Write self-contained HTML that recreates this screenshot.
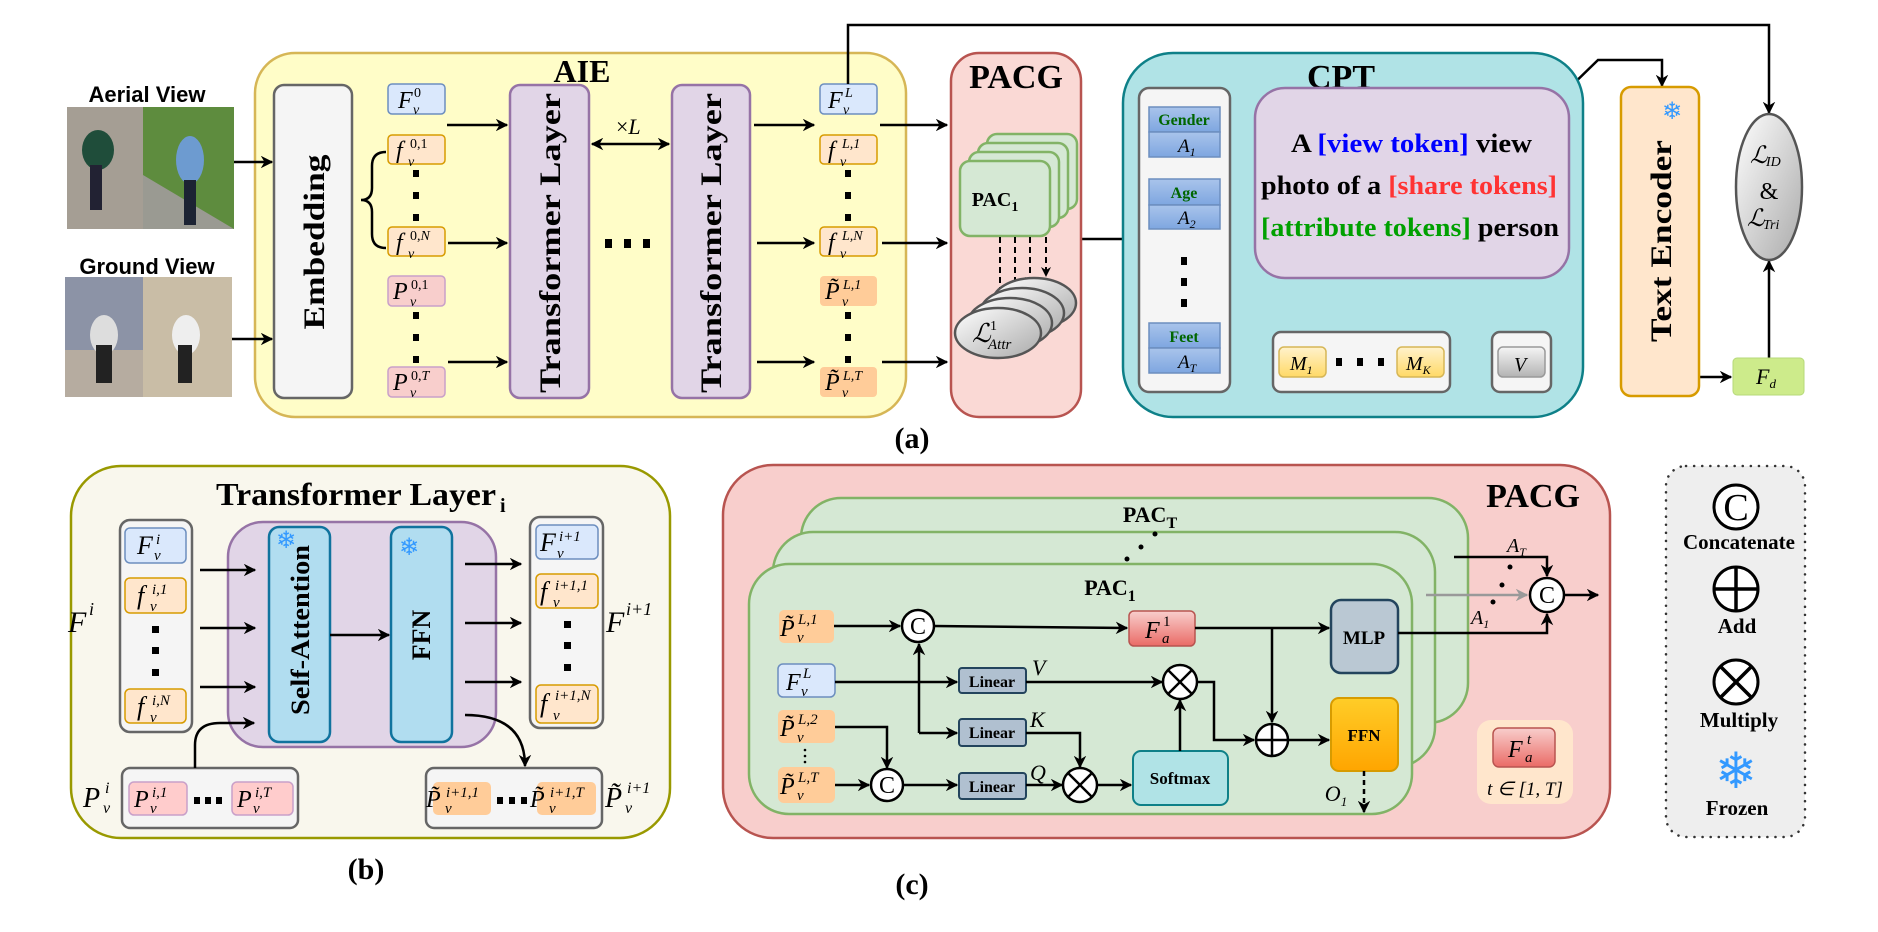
<!DOCTYPE html>
<html><head><meta charset="utf-8"><style>
html,body{margin:0;padding:0;background:#fff;}
svg{display:block;}
.mi{font-family:"Liberation Serif",serif;font-style:italic;}
.rm{font-family:"Liberation Serif",serif;}
.bd{font-family:"Liberation Serif",serif;font-weight:bold;}
.sn{font-family:"Liberation Sans",sans-serif;font-weight:bold;}
.sf{font-family:"DejaVu Sans",sans-serif;fill:#3399ff;}
</style></head><body>
<svg width="1878" height="932" viewBox="0 0 1878 932" xmlns="http://www.w3.org/2000/svg">
<defs>
<marker id="ah" viewBox="0 0 10 10" refX="9" refY="5" markerWidth="5" markerHeight="5" orient="auto-start-reverse"><path d="M0,0 L10,5 L0,10 L3,5 z" fill="#000"/></marker>
<marker id="ahg" viewBox="0 0 10 10" refX="9" refY="5" markerWidth="5" markerHeight="5" orient="auto"><path d="M0,0 L10,5 L0,10 L3,5 z" fill="#999"/></marker>
<linearGradient id="gGray" x1="0" y1="0" x2="1" y2="1"><stop offset="0" stop-color="#fff"/><stop offset="1" stop-color="#aaa"/></linearGradient>
<linearGradient id="gBlue" x1="0" y1="0" x2="0" y2="1"><stop offset="0" stop-color="#a9c4eb"/><stop offset="1" stop-color="#7ea6e0"/></linearGradient>
<linearGradient id="gYel" x1="0" y1="0" x2="0" y2="1"><stop offset="0" stop-color="#fff2cc"/><stop offset="1" stop-color="#ffd966"/></linearGradient>
<linearGradient id="gRed" x1="0" y1="0" x2="0" y2="1"><stop offset="0" stop-color="#f8cecc"/><stop offset="1" stop-color="#ea6b66"/></linearGradient>
<linearGradient id="gOr" x1="0" y1="0" x2="0" y2="1"><stop offset="0" stop-color="#ffcd28"/><stop offset="1" stop-color="#ffa500"/></linearGradient>
<linearGradient id="gV" x1="0" y1="0" x2="0" y2="1"><stop offset="0" stop-color="#f5f5f5"/><stop offset="1" stop-color="#b3b3b3"/></linearGradient>
</defs>

<!-- ============ (a) ============ -->
<text class="sn" x="147" y="102" font-size="22" text-anchor="middle">Aerial View</text>
<rect x="67" y="107" width="76" height="122" fill="#a59e94"/>
<rect x="143" y="107" width="91" height="122" fill="#5e8c3e"/>
<path d="M143,175 L234,229 L143,229 z" fill="#9a9a92"/>
<ellipse cx="98" cy="150" rx="16" ry="20" fill="#1f4d3a"/><rect x="90" y="165" width="12" height="45" fill="#223"/>
<ellipse cx="190" cy="160" rx="14" ry="24" fill="#6d9bd0"/><rect x="184" y="180" width="12" height="45" fill="#1c2333"/>
<text class="sn" x="147" y="274" font-size="22" text-anchor="middle">Ground View</text>
<rect x="65" y="277" width="78" height="120" fill="#8c93a6"/>
<rect x="143" y="277" width="89" height="120" fill="#c9bda6"/>
<rect x="65" y="350" width="78" height="47" fill="#b6aca0"/>
<ellipse cx="104" cy="335" rx="14" ry="20" fill="#ddd"/><rect x="96" y="345" width="16" height="38" fill="#222"/>
<ellipse cx="186" cy="335" rx="14" ry="20" fill="#eee"/><rect x="178" y="345" width="14" height="38" fill="#222"/>

<rect x="255" y="53" width="651" height="364" rx="40" fill="#fffdc8" stroke="#d6b656" stroke-width="2.5"/>
<text class="bd" x="582" y="82" font-size="32" text-anchor="middle">AIE</text>
<rect x="274" y="85" width="78" height="313" rx="10" fill="#f5f5f5" stroke="#666" stroke-width="2.5"/>
<text class="bd" font-size="30" text-anchor="middle" transform="translate(324,242) rotate(-90)" textLength="175" lengthAdjust="spacingAndGlyphs">Embedding</text>
<path d="M386,152 Q372,152 372,166 L372,188 Q372,200 361,200 Q372,200 372,212 L372,234 Q372,248 386,248" fill="none" stroke="#000" stroke-width="2.5"/>

<!-- left token boxes -->
<rect x="388" y="84" width="57" height="30" rx="4" fill="#dae8fc" stroke="#6c8ebf" stroke-width="1.5"/>
<rect x="388" y="135" width="57" height="29" rx="4" fill="#ffe6cc" stroke="#d79b00" stroke-width="1.5"/>
<rect x="388" y="227" width="57" height="29" rx="4" fill="#ffe6cc" stroke="#d79b00" stroke-width="1.5"/>
<rect x="388" y="276" width="57" height="30" rx="4" fill="#f8cecc" stroke="#c9a0c9" stroke-width="1.5"/>
<rect x="388" y="367" width="57" height="30" rx="4" fill="#f8cecc" stroke="#c9a0c9" stroke-width="1.5"/>
<g fill="#000"><rect x="413" y="170" width="6" height="7"/><rect x="413" y="192" width="6" height="7"/><rect x="413" y="214" width="6" height="7"/>
<rect x="413" y="312" width="6" height="7"/><rect x="413" y="334" width="6" height="7"/><rect x="413" y="356" width="6" height="7"/></g>
<g>
<text class="mi" x="398" y="108" font-size="24">F</text><text class="rm" x="414" y="97" font-size="14">0</text><text class="mi" x="413" y="114" font-size="14">v</text>
<text class="mi" x="396" y="158" font-size="24">f</text><text class="rm" x="410" y="148" font-size="14">0,1</text><text class="mi" x="408" y="166" font-size="14">v</text>
<text class="mi" x="396" y="250" font-size="24">f</text><text class="rm" x="410" y="240" font-size="14">0,<tspan class="mi">N</tspan></text><text class="mi" x="408" y="258" font-size="14">v</text>
<text class="mi" x="393" y="299" font-size="24">P</text><text class="rm" x="411" y="289" font-size="14">0,1</text><text class="mi" x="410" y="306" font-size="14">v</text>
<text class="mi" x="393" y="390" font-size="24">P</text><text class="rm" x="411" y="380" font-size="14">0,<tspan class="mi">T</tspan></text><text class="mi" x="410" y="397" font-size="14">v</text>
</g>

<rect x="510" y="85" width="79" height="313" rx="10" fill="#e1d5e7" stroke="#9673a6" stroke-width="2.5"/>
<text class="bd" font-size="30" text-anchor="middle" transform="translate(560,243) rotate(-90)" textLength="300" lengthAdjust="spacingAndGlyphs">Transformer  Layer</text>
<rect x="672" y="85" width="78" height="313" rx="10" fill="#e1d5e7" stroke="#9673a6" stroke-width="2.5"/>
<text class="bd" font-size="30" text-anchor="middle" transform="translate(721,243) rotate(-90)" textLength="300" lengthAdjust="spacingAndGlyphs">Transformer  Layer</text>
<text class="rm" x="616" y="134" font-size="22">×<tspan class="mi">L</tspan></text>
<line x1="592" y1="144" x2="669" y2="144" stroke="#000" stroke-width="2.5" marker-start="url(#ah)" marker-end="url(#ah)"/>
<g fill="#000"><rect x="605" y="239" width="7" height="9"/><rect x="624" y="239" width="7" height="9"/><rect x="643" y="239" width="7" height="9"/></g>

<!-- right token boxes -->
<rect x="820" y="84" width="57" height="30" rx="4" fill="#dae8fc" stroke="#6c8ebf" stroke-width="1.5"/>
<rect x="820" y="135" width="57" height="29" rx="4" fill="#ffe6cc" stroke="#d79b00" stroke-width="1.5"/>
<rect x="820" y="227" width="57" height="29" rx="4" fill="#ffe6cc" stroke="#d79b00" stroke-width="1.5"/>
<rect x="820" y="276" width="57" height="30" rx="4" fill="#ffcc99"/>
<rect x="820" y="367" width="57" height="30" rx="4" fill="#ffcc99"/>
<g fill="#000"><rect x="845" y="170" width="6" height="7"/><rect x="845" y="192" width="6" height="7"/><rect x="845" y="214" width="6" height="7"/>
<rect x="845" y="312" width="6" height="7"/><rect x="845" y="334" width="6" height="7"/><rect x="845" y="356" width="6" height="7"/></g>
<g>
<text class="mi" x="828" y="108" font-size="24">F</text><text class="mi" x="845" y="97" font-size="14">L</text><text class="mi" x="843" y="114" font-size="14">v</text>
<text class="mi" x="828" y="158" font-size="24">f</text><text class="mi" x="842" y="148" font-size="14">L<tspan class="rm">,1</tspan></text><text class="mi" x="840" y="166" font-size="14">v</text>
<text class="mi" x="828" y="250" font-size="24">f</text><text class="mi" x="842" y="240" font-size="14">L,N</text><text class="mi" x="840" y="258" font-size="14">v</text>
<text class="mi" x="825" y="299" font-size="24">P̃</text><text class="mi" x="843" y="289" font-size="14">L<tspan class="rm">,1</tspan></text><text class="mi" x="842" y="306" font-size="14">v</text>
<text class="mi" x="825" y="390" font-size="24">P̃</text><text class="mi" x="843" y="380" font-size="14">L,T</text><text class="mi" x="842" y="397" font-size="14">v</text>
</g>

<g stroke="#000" stroke-width="2.5" fill="none" marker-end="url(#ah)">
<line x1="234" y1="162" x2="272" y2="162"/>
<line x1="232" y1="339" x2="272" y2="339"/>
<line x1="447" y1="125" x2="507" y2="125"/>
<line x1="448" y1="243" x2="507" y2="243"/>
<line x1="448" y1="362" x2="507" y2="362"/>
<line x1="754" y1="125" x2="814" y2="125"/>
<line x1="757" y1="243" x2="814" y2="243"/>
<line x1="757" y1="362" x2="814" y2="362"/>
<line x1="880" y1="125" x2="947" y2="125"/>
<line x1="882" y1="243" x2="947" y2="243"/>
<line x1="882" y1="362" x2="947" y2="362"/>
<polyline points="848,84 848,25 1769,25 1769,113"/>
<line x1="1081" y1="239" x2="1137" y2="239"/>
<line x1="1230" y1="183" x2="1253" y2="183"/>
<polyline points="1562,95 1598,60 1662,60 1662,86"/>
<line x1="1364" y1="332" x2="1364" y2="281"/>
<line x1="1521" y1="332" x2="1521" y2="281"/>
<line x1="1700" y1="377" x2="1731" y2="377"/>
<line x1="1769" y1="358" x2="1769" y2="261"/>
</g>

<!-- PACG top -->
<rect x="951" y="53" width="130" height="364" rx="28" fill="#fad9d5" stroke="#b85450" stroke-width="2.5"/>
<text class="bd" x="1016" y="88" font-size="34" text-anchor="middle">PACG</text>
<g fill="#d5e8d4" stroke="#82b366" stroke-width="2.5">
<rect x="987" y="134" width="90" height="75" rx="10"/>
<rect x="978" y="143" width="90" height="75" rx="10"/>
<rect x="969" y="152" width="90" height="75" rx="10"/>
<rect x="960" y="161" width="90" height="75" rx="10"/>
</g>
<text class="bd" x="995" y="206" font-size="20" text-anchor="middle">PAC<tspan font-size="14" dy="5">1</tspan></text>
<g stroke="#000" stroke-width="2" stroke-dasharray="6,4" fill="none" marker-end="url(#ah)">
<line x1="1046" y1="237" x2="1046" y2="276"/>
<line x1="1030" y1="237" x2="1030" y2="286"/>
<line x1="1015" y1="237" x2="1015" y2="296"/>
<line x1="1000" y1="237" x2="1000" y2="306"/>
</g>
<g fill="url(#gGray)" stroke="#555" stroke-width="2.5">
<ellipse cx="1034" cy="303" rx="42" ry="25"/>
<ellipse cx="1022" cy="313" rx="42" ry="25"/>
<ellipse cx="1010" cy="323" rx="42" ry="25"/>
<ellipse cx="998" cy="333" rx="43" ry="25"/>
</g>
<text class="mi" x="972" y="342" font-size="26">ℒ</text><text class="rm" x="990" y="330" font-size="14">1</text><text class="mi" x="988" y="349" font-size="15">Attr</text>

<!-- CPT -->
<rect x="1123" y="53" width="460" height="364" rx="50" fill="#b0e3e6" stroke="#0e8088" stroke-width="2.5"/>
<text class="bd" x="1341" y="88" font-size="34" text-anchor="middle">CPT</text>
<rect x="1139" y="88" width="91" height="304" rx="10" fill="#f5f5f5" stroke="#666" stroke-width="2.5"/>
<g stroke="#6c8ebf" stroke-width="1.5" fill="url(#gBlue)">
<rect x="1149" y="107" width="71" height="25"/><rect x="1149" y="132" width="71" height="25"/>
<rect x="1149" y="179" width="71" height="26"/><rect x="1149" y="205" width="71" height="24"/>
<rect x="1149" y="323" width="71" height="25"/><rect x="1149" y="348" width="71" height="25"/>
</g>
<g class="bd" font-size="16" fill="#006600" text-anchor="middle">
<text x="1184" y="125">Gender</text><text x="1184" y="198">Age</text><text x="1184" y="342">Feet</text>
</g>
<text class="mi" x="1178" y="152" font-size="19">A<tspan class="rm" font-size="12" dy="4">1</tspan></text>
<text class="mi" x="1178" y="224" font-size="19">A<tspan class="rm" font-size="12" dy="4">2</tspan></text>
<text class="mi" x="1178" y="368" font-size="19">A<tspan font-size="12" dy="4">T</tspan></text>
<g fill="#000"><rect x="1181" y="257" width="6" height="8"/><rect x="1181" y="278" width="6" height="8"/><rect x="1181" y="299" width="6" height="8"/></g>

<rect x="1255" y="88" width="314" height="190" rx="30" fill="#e1d5e7" stroke="#9673a6" stroke-width="2.5"/>
<text class="bd" x="1291" y="152" font-size="26" textLength="241" lengthAdjust="spacingAndGlyphs">A  <tspan fill="#0000ff">[view token]</tspan> view</text>
<text class="bd" x="1261" y="194" font-size="26" textLength="296" lengthAdjust="spacingAndGlyphs">photo of a <tspan fill="#ff3333">[share tokens]</tspan></text>
<text class="bd" x="1261" y="236" font-size="26" textLength="298" lengthAdjust="spacingAndGlyphs"><tspan fill="#00a000">[attribute tokens]</tspan> person</text>

<rect x="1273" y="332" width="177" height="60" rx="8" fill="#f5f5f5" stroke="#666" stroke-width="2.5"/>
<rect x="1279" y="347" width="47" height="30" rx="5" fill="url(#gYel)" stroke="#d6b656" stroke-width="1.5"/>
<rect x="1397" y="347" width="47" height="30" rx="5" fill="url(#gYel)" stroke="#d6b656" stroke-width="1.5"/>
<text class="mi" x="1290" y="370" font-size="20">M<tspan class="rm" font-size="12" dy="4">1</tspan></text>
<text class="mi" x="1406" y="370" font-size="20">M<tspan font-size="12" dy="4">K</tspan></text>
<g fill="#000"><rect x="1336" y="358" width="6" height="8"/><rect x="1357" y="358" width="6" height="8"/><rect x="1378" y="358" width="6" height="8"/></g>
<rect x="1492" y="332" width="59" height="60" rx="8" fill="#f5f5f5" stroke="#666" stroke-width="2.5"/>
<rect x="1498" y="347" width="47" height="30" rx="5" fill="url(#gV)" stroke="#999" stroke-width="1.5"/>
<text class="mi" x="1514" y="371" font-size="20">V</text>

<!-- Text encoder -->
<rect x="1621" y="87" width="78" height="309" rx="10" fill="#ffe6cc" stroke="#d79b00" stroke-width="2.5"/>
<text class="bd" font-size="30" text-anchor="middle" transform="translate(1671,241) rotate(-90)" textLength="202" lengthAdjust="spacingAndGlyphs">Text Encoder</text>
<text class="sf" x="1672" y="119" font-size="24" text-anchor="middle">❄</text>

<ellipse cx="1769" cy="187" rx="33" ry="73" fill="url(#gGray)" stroke="#555" stroke-width="2.5"/>
<text class="mi" x="1750" y="163" font-size="24">ℒ</text><text class="mi" x="1766" y="166" font-size="14">ID</text>
<text class="rm" x="1769" y="199" font-size="24" text-anchor="middle">&amp;</text>
<text class="mi" x="1747" y="226" font-size="24">ℒ</text><text class="mi" x="1763" y="229" font-size="14">Tri</text>
<rect x="1733" y="358" width="71" height="37" rx="4" fill="#cdeb8b" stroke="#b6d97a" stroke-width="1"/>
<text class="mi" x="1756" y="384" font-size="22">F<tspan font-size="13" dy="4">d</tspan></text>

<text class="bd" x="912" y="448" font-size="30" text-anchor="middle">(a)</text>

<!-- ============ (b) ============ -->
<rect x="71" y="466" width="599" height="372" rx="50" fill="#f9f7ed" stroke="#999900" stroke-width="2.5"/>
<text class="bd" x="216" y="505" font-size="32" textLength="280" lengthAdjust="spacingAndGlyphs">Transformer Layer</text>
<text class="bd" x="500" y="512" font-size="20">i</text>

<rect x="120" y="520" width="72" height="212" rx="10" fill="#f5f5f5" stroke="#666" stroke-width="2.5"/>
<rect x="125" y="528" width="61" height="35" rx="5" fill="#dae8fc" stroke="#6c8ebf" stroke-width="1.5"/>
<rect x="125" y="578" width="61" height="35" rx="5" fill="#ffe6cc" stroke="#d79b00" stroke-width="1.5"/>
<rect x="125" y="689" width="61" height="34" rx="5" fill="#ffe6cc" stroke="#d79b00" stroke-width="1.5"/>
<g fill="#000"><rect x="152" y="626" width="7" height="7"/><rect x="152" y="647" width="7" height="7"/><rect x="152" y="669" width="7" height="7"/></g>
<text class="mi" x="137" y="554" font-size="26">F</text><text class="mi" x="156" y="544" font-size="15">i</text><text class="mi" x="154" y="560" font-size="15">v</text>
<text class="mi" x="137" y="604" font-size="26">f</text><text class="mi" x="152" y="594" font-size="15">i<tspan class="rm">,1</tspan></text><text class="mi" x="150" y="611" font-size="15">v</text>
<text class="mi" x="137" y="715" font-size="26">f</text><text class="mi" x="152" y="705" font-size="15">i,N</text><text class="mi" x="150" y="722" font-size="15">v</text>
<text class="mi" x="68" y="632" font-size="30">F</text><text class="mi" x="89" y="615" font-size="18">i</text>

<rect x="228" y="522" width="268" height="225" rx="35" fill="#e1d5e7" stroke="#9673a6" stroke-width="2.5"/>
<rect x="269" y="527" width="61" height="215" rx="10" fill="#b1ddf0" stroke="#10739e" stroke-width="2.5"/>
<rect x="391" y="527" width="61" height="215" rx="10" fill="#b1ddf0" stroke="#10739e" stroke-width="2.5"/>
<text class="bd" font-size="26" text-anchor="middle" transform="translate(309,630) rotate(-90)" textLength="170" lengthAdjust="spacingAndGlyphs">Self-Attention</text>
<text class="bd" font-size="26" text-anchor="middle" transform="translate(430,635) rotate(-90)">FFN</text>
<text class="sf" x="286" y="548" font-size="24" text-anchor="middle">❄</text>
<text class="sf" x="409" y="555" font-size="24" text-anchor="middle">❄</text>

<rect x="530" y="517" width="73" height="211" rx="10" fill="#f5f5f5" stroke="#666" stroke-width="2.5"/>
<rect x="536" y="525" width="62" height="34" rx="5" fill="#dae8fc" stroke="#6c8ebf" stroke-width="1.5"/>
<rect x="536" y="574" width="62" height="34" rx="5" fill="#ffe6cc" stroke="#d79b00" stroke-width="1.5"/>
<rect x="536" y="685" width="62" height="38" rx="5" fill="#ffe6cc" stroke="#d79b00" stroke-width="1.5"/>
<g fill="#000"><rect x="564" y="621" width="7" height="7"/><rect x="564" y="642" width="7" height="7"/><rect x="564" y="664" width="7" height="7"/></g>
<text class="mi" x="540" y="551" font-size="26">F</text><text class="mi" x="559" y="541" font-size="15">i<tspan class="rm">+1</tspan></text><text class="mi" x="557" y="558" font-size="15">v</text>
<text class="mi" x="540" y="600" font-size="26">f</text><text class="mi" x="555" y="590" font-size="15">i<tspan class="rm">+1,1</tspan></text><text class="mi" x="553" y="607" font-size="15">v</text>
<text class="mi" x="540" y="712" font-size="26">f</text><text class="mi" x="555" y="700" font-size="15">i<tspan class="rm">+1,</tspan>N</text><text class="mi" x="553" y="720" font-size="15">v</text>
<text class="mi" x="606" y="632" font-size="30">F</text><text class="mi" x="626" y="615" font-size="18">i<tspan class="rm">+1</tspan></text>

<rect x="122" y="768" width="176" height="60" rx="8" fill="#f5f5f5" stroke="#666" stroke-width="2.5"/>
<rect x="129" y="782" width="58" height="33" rx="5" fill="#ffcccc" stroke="#c9a0c9" stroke-width="1.5"/>
<rect x="232" y="782" width="61" height="33" rx="5" fill="#ffcccc" stroke="#c9a0c9" stroke-width="1.5"/>
<g fill="#000"><rect x="194" y="797" width="6" height="7"/><rect x="205" y="797" width="6" height="7"/><rect x="216" y="797" width="6" height="7"/></g>
<text class="mi" x="134" y="807" font-size="24">P</text><text class="mi" x="152" y="797" font-size="15">i<tspan class="rm">,1</tspan></text><text class="mi" x="150" y="813" font-size="15">v</text>
<text class="mi" x="237" y="807" font-size="24">P</text><text class="mi" x="255" y="797" font-size="15">i,T</text><text class="mi" x="253" y="813" font-size="15">v</text>
<text class="mi" x="83" y="807" font-size="28">P</text><text class="mi" x="105" y="793" font-size="16">i</text><text class="mi" x="103" y="813" font-size="16">v</text>

<rect x="426" y="768" width="176" height="60" rx="8" fill="#f5f5f5" stroke="#666" stroke-width="2.5"/>
<rect x="433" y="782" width="58" height="33" rx="5" fill="#ffcc99"/>
<rect x="537" y="782" width="59" height="33" rx="5" fill="#ffcc99"/>
<g fill="#000"><rect x="497" y="797" width="6" height="7"/><rect x="509" y="797" width="6" height="7"/><rect x="521" y="797" width="6" height="7"/></g>
<text class="mi" x="426" y="807" font-size="24">P̃</text><text class="mi" x="446" y="797" font-size="15">i<tspan class="rm">+1,1</tspan></text><text class="mi" x="445" y="813" font-size="15">v</text>
<text class="mi" x="530" y="807" font-size="24">P̃</text><text class="mi" x="550" y="797" font-size="15">i<tspan class="rm">+1,</tspan>T</text><text class="mi" x="549" y="813" font-size="15">v</text>
<text class="mi" x="605" y="807" font-size="28">P̃</text><text class="mi" x="627" y="793" font-size="16">i<tspan class="rm">+1</tspan></text><text class="mi" x="625" y="813" font-size="16">v</text>

<g stroke="#000" stroke-width="2.5" fill="none" marker-end="url(#ah)">
<line x1="200" y1="570" x2="255" y2="570"/>
<line x1="200" y1="628" x2="255" y2="628"/>
<line x1="200" y1="687" x2="255" y2="687"/>
<line x1="330" y1="635" x2="389" y2="635"/>
<line x1="465" y1="564" x2="521" y2="564"/>
<line x1="465" y1="623" x2="521" y2="623"/>
<line x1="465" y1="682" x2="521" y2="682"/>
<path d="M195,768 L195,745 Q195,723 220,723 L254,723"/>
<path d="M465,715 Q525,715 525,766"/>
</g>
<text class="bd" x="366" y="879" font-size="30" text-anchor="middle">(b)</text>

<!-- ============ (c) ============ -->
<rect x="723" y="465" width="887" height="373" rx="50" fill="#f8cecc" stroke="#b85450" stroke-width="2.5"/>
<text class="bd" x="1533" y="507" font-size="34" text-anchor="middle">PACG</text>
<g fill="#d5e8d4" stroke="#82b366" stroke-width="2.5">
<rect x="801" y="498" width="667" height="225" rx="40"/>
<rect x="773" y="532" width="662" height="235" rx="40"/>
<rect x="749" y="564" width="663" height="250" rx="40"/>
</g>
<text class="bd" x="1150" y="522" font-size="22" text-anchor="middle">PAC<tspan font-size="16" dy="6">T</tspan></text>
<text class="bd" x="1110" y="595" font-size="22" text-anchor="middle">PAC<tspan font-size="16" dy="6">1</tspan></text>
<g fill="#000"><circle cx="1155" cy="534" r="2.5"/><circle cx="1141" cy="547" r="2.5"/><circle cx="1127" cy="559" r="2.5"/>
<circle cx="1510" cy="567" r="2.5"/><circle cx="1502" cy="585" r="2.5"/><circle cx="1493" cy="602" r="2.5"/></g>

<rect x="779" y="610" width="55" height="33" rx="5" fill="#ffcc99"/>
<text class="mi" x="780" y="636" font-size="24">P̃</text><text class="mi" x="798" y="624" font-size="15">L<tspan class="rm">,1</tspan></text><text class="mi" x="797" y="642" font-size="15">v</text>
<rect x="778" y="664" width="57" height="33" rx="5" fill="#dae8fc" stroke="#6c8ebf" stroke-width="1.5"/>
<text class="mi" x="786" y="690" font-size="24">F</text><text class="mi" x="803" y="678" font-size="15">L</text><text class="mi" x="801" y="696" font-size="15">v</text>
<rect x="778" y="710" width="57" height="33" rx="5" fill="#ffcc99"/>
<text class="mi" x="780" y="736" font-size="24">P̃</text><text class="mi" x="798" y="724" font-size="15">L<tspan class="rm">,2</tspan></text><text class="mi" x="797" y="742" font-size="15">v</text>
<g fill="#000"><circle cx="805" cy="750" r="1.3"/><circle cx="805" cy="756" r="1.3"/><circle cx="805" cy="762" r="1.3"/></g>
<rect x="778" y="767" width="57" height="36" rx="6" fill="#ffcc99"/>
<text class="mi" x="780" y="794" font-size="24">P̃</text><text class="mi" x="798" y="782" font-size="15">L,T</text><text class="mi" x="797" y="800" font-size="15">v</text>

<rect x="1129" y="611" width="66" height="35" rx="5" fill="url(#gRed)" stroke="#b85450" stroke-width="1.5"/>
<text class="mi" x="1145" y="638" font-size="24">F</text><text class="rm" x="1163" y="626" font-size="15">1</text><text class="mi" x="1162" y="643" font-size="15">a</text>

<g fill="#b0c0d0" stroke="#23445d" stroke-width="2">
<rect x="959" y="668" width="67" height="25" rx="3"/>
<rect x="959" y="719" width="67" height="27" rx="3"/>
<rect x="959" y="773" width="67" height="26" rx="3"/>
</g>
<g class="bd" font-size="16" text-anchor="middle"><text x="992" y="687">Linear</text><text x="992" y="738">Linear</text><text x="992" y="792">Linear</text></g>
<text class="mi" x="1032" y="675" font-size="22">V</text>
<text class="mi" x="1030" y="727" font-size="22">K</text>
<text class="mi" x="1030" y="780" font-size="22">Q</text>

<rect x="1133" y="751" width="95" height="54" rx="8" fill="#b0e3e6" stroke="#0e8088" stroke-width="2"/>
<text class="bd" x="1180" y="784" font-size="17" text-anchor="middle">Softmax</text>
<rect x="1331" y="600" width="67" height="73" rx="10" fill="#bac8d3" stroke="#23445d" stroke-width="2.5"/>
<text class="bd" x="1364" y="644" font-size="19" text-anchor="middle">MLP</text>
<rect x="1331" y="698" width="67" height="73" rx="8" fill="url(#gOr)" stroke="#d79b00" stroke-width="2"/>
<text class="bd" x="1364" y="741" font-size="17" text-anchor="middle">FFN</text>

<g stroke="#000" stroke-width="2.5" fill="none" marker-end="url(#ah)">
<line x1="834" y1="626" x2="900" y2="626"/>
<line x1="934" y1="626" x2="1127" y2="628"/>
<line x1="1195" y1="628" x2="1329" y2="628"/>
<line x1="1272" y1="628" x2="1272" y2="722"/>
<line x1="835" y1="682" x2="957" y2="682"/>
<line x1="1026" y1="682" x2="1162" y2="682"/>
<line x1="919" y1="733" x2="919" y2="644"/>
<line x1="919" y1="733" x2="957" y2="733"/>
<polyline points="1026,733 1080,733 1080,767"/>
<polyline points="835,727 887,727 887,768"/>
<line x1="835" y1="785" x2="869" y2="785"/>
<line x1="903" y1="785" x2="957" y2="785"/>
<line x1="1026" y1="785" x2="1062" y2="785"/>
<line x1="1097" y1="785" x2="1131" y2="785"/>
<line x1="1180" y1="751" x2="1180" y2="700"/>
<polyline points="1197,682 1214,682 1214,740 1254,740"/>
<line x1="1288" y1="740" x2="1329" y2="740"/>
<polyline points="1398,633 1547,633 1547,614"/>
<polyline points="1454,557 1547,557 1547,576"/>
<line x1="1564" y1="595" x2="1598" y2="595"/>
<line x1="1364" y1="771" x2="1364" y2="812" stroke-dasharray="5,4"/>
</g>
<line x1="1426" y1="595" x2="1527" y2="595" stroke="#999" stroke-width="2.5" marker-end="url(#ahg)"/>
<text class="mi" x="1336" y="801" font-size="22" text-anchor="middle">O<tspan class="rm" font-size="13" dy="5">1</tspan></text>
<text class="mi" x="1507" y="552" font-size="20">A<tspan font-size="12" dy="4">T</tspan></text>
<text class="mi" x="1471" y="624" font-size="20">A<tspan class="rm" font-size="12" dy="4">1</tspan></text>

<!-- operator circles -->
<g fill="#fff" stroke="#000" stroke-width="2.5">
<circle cx="918" cy="626" r="16"/><circle cx="887" cy="785" r="16"/><circle cx="1547" cy="595" r="17"/>
<circle cx="1180" cy="682" r="17"/><circle cx="1080" cy="785" r="17"/><circle cx="1272" cy="740" r="16"/>
</g>
<g class="rm" font-size="24" text-anchor="middle"><text x="918" y="634">C</text><text x="887" y="793">C</text><text x="1547" y="603">C</text></g>
<g stroke="#000" stroke-width="2.5">
<line x1="1168" y1="670" x2="1192" y2="694"/><line x1="1192" y1="670" x2="1168" y2="694"/>
<line x1="1068" y1="773" x2="1092" y2="797"/><line x1="1092" y1="773" x2="1068" y2="797"/>
<line x1="1256" y1="740" x2="1288" y2="740"/><line x1="1272" y1="724" x2="1272" y2="756"/>
</g>

<rect x="1477" y="720" width="96" height="84" rx="14" fill="#ffe6cc"/>
<rect x="1493" y="728" width="62" height="39" rx="6" fill="url(#gRed)" stroke="#b85450" stroke-width="1.5"/>
<text class="mi" x="1508" y="757" font-size="24">F</text><text class="mi" x="1527" y="744" font-size="15">t</text><text class="mi" x="1525" y="762" font-size="15">a</text>
<text class="mi" x="1525" y="795" font-size="19" text-anchor="middle">t <tspan class="rm">∈ [1, </tspan>T<tspan class="rm">]</tspan></text>

<text class="bd" x="912" y="894" font-size="30" text-anchor="middle">(c)</text>

<!-- legend -->
<rect x="1666" y="466" width="139" height="371" rx="20" fill="#eeeeee" stroke="#333" stroke-width="2.5" stroke-dasharray="0.1,8" stroke-linecap="round"/>
<g fill="#fff" stroke="#000" stroke-width="3">
<circle cx="1736" cy="507" r="22"/><circle cx="1736" cy="589" r="22"/><circle cx="1736" cy="682" r="22"/>
</g>
<text class="rm" x="1736" y="520" font-size="38" text-anchor="middle">C</text>
<g stroke="#000" stroke-width="3.5">
<line x1="1714" y1="589" x2="1758" y2="589"/><line x1="1736" y1="567" x2="1736" y2="611"/>
<line x1="1721" y1="667" x2="1751" y2="697"/><line x1="1751" y1="667" x2="1721" y2="697"/>
</g>
<g class="bd" font-size="21" text-anchor="middle">
<text x="1739" y="549">Concatenate</text><text x="1737" y="633">Add</text><text x="1739" y="727">Multiply</text><text x="1737" y="815">Frozen</text>
</g>
<text class="sf" x="1736" y="788" font-size="50" text-anchor="middle">❄</text>
</svg>
</body></html>
